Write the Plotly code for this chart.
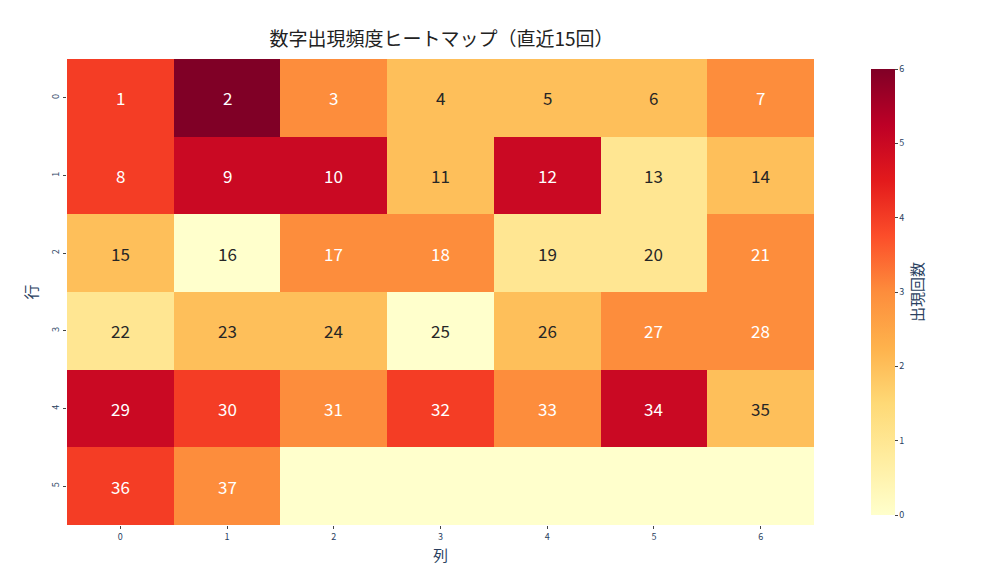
import plotly.graph_objects as go

rows = [0, 1, 2, 3, 4, 5]
cols = [0, 1, 2, 3, 4, 5, 6]
counts = [
    [4, 6, 3, 2, 2, 2, 3],
    [4, 5, 5, 2, 5, 1, 2],
    [2, 0, 3, 3, 1, 1, 3],
    [1, 2, 2, 0, 2, 3, 3],
    [5, 4, 3, 4, 3, 5, 2],
    [4, 3, 0, 0, 0, 0, 0],
]
labels = [
    ["1", "2", "3", "4", "5", "6", "7"],
    ["8", "9", "10", "11", "12", "13", "14"],
    ["15", "16", "17", "18", "19", "20", "21"],
    ["22", "23", "24", "25", "26", "27", "28"],
    ["29", "30", "31", "32", "33", "34", "35"],
    ["36", "37", "", "", "", "", ""],
]

ylorrd = ["#ffffcc", "#ffeda0", "#fed976", "#feb24c", "#fd8d3c",
          "#fc4e2a", "#e31a1c", "#bd0026", "#800026"]
cs = [[i / 8, c] for i, c in enumerate(ylorrd)]
F = "Noto Sans CJK JP"

fig = go.Figure(go.Heatmap(
    z=counts, x=cols, y=rows, zmin=0, zmax=6, colorscale=cs, xgap=0, ygap=0,
    colorbar=dict(x=1.063, xanchor="left", thickness=24, len=1, y=0.5,
                  outlinewidth=0, tickvals=[0, 1, 2, 3, 4, 5, 6],
                  tickfont=dict(size=9, family=F), ticks="outside", ticklen=3,
                  title=dict(text="出現回数", side="right", font=dict(size=15, family=F))),
))
ann = []
for r in rows:
    for c in cols:
        if labels[r][c]:
            ann.append(dict(x=c, y=r, text=labels[r][c], showarrow=False,
                            font=dict(size=17, family=F,
                                      color="white" if counts[r][c] >= 3 else "#262626")))
fig.update_layout(
    width=1008, height=576, margin=dict(l=59, r=202, t=51, b=59),
    plot_bgcolor="white", paper_bgcolor="white", annotations=ann,
    title=dict(text="数字出現頻度ヒートマップ（直近15回）", x=0.43, xanchor="center", y=0.957,
               font=dict(size=19, family=F, color="#222")),
    xaxis=dict(tickvals=cols, tickfont=dict(size=9, family=F), ticks="outside", ticklen=3,
               title=dict(text="列", font=dict(size=15, family=F), standoff=8), showgrid=False, zeroline=False),
    yaxis=dict(tickvals=rows, autorange="reversed", tickfont=dict(size=9, family=F), tickangle=-90,
               ticks="outside", ticklen=3,
               title=dict(text="行", font=dict(size=15, family=F), standoff=8), showgrid=False, zeroline=False),
)
fig.write_html("out.html")
